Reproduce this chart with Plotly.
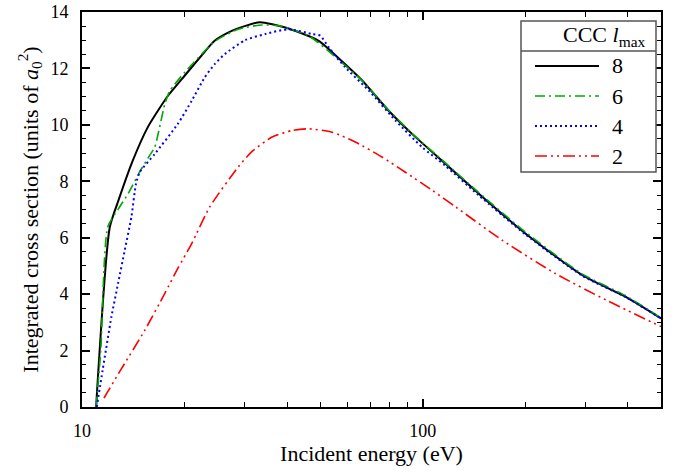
import plotly.graph_objects as go

# ---- data ----
e8 = [11.0, 12.06, 12.8, 14.1, 15.6, 16.7, 17.9, 20.0, 22.4, 24.5, 27.5, 30.0, 33.3, 39.5,
      49.5, 57.7, 66.4, 79.4, 93.0, 116.5, 146, 200, 294, 393, 500]
s8 = [0.0, 6.36, 7.33, 8.74, 9.92, 10.5, 11.04, 11.74, 12.45, 12.98, 13.33, 13.5, 13.64, 13.45,
      12.98, 12.27, 11.57, 10.5, 9.68, 8.62, 7.56, 6.15, 4.67, 3.91, 3.14]

e6 = [11.0, 11.35, 11.9, 12.8, 13.65, 14.76, 15.8, 16.35, 17.5, 18.1, 20.0, 24.0, 25.1, 28.7,
      33.7, 37.8, 46.2, 57.7, 66.4, 79.4, 93.0, 116.5, 146, 200, 294, 393, 500]
s6 = [0.0, 2.0, 6.38, 7.03, 7.56, 8.33, 8.92, 9.21, 10.74, 11.2, 11.86, 12.86, 13.04, 13.39,
      13.54, 13.51, 13.16, 12.22, 11.56, 10.52, 9.7, 8.65, 7.6, 6.2, 4.71, 3.95, 3.16]

e4 = [11.05, 11.5, 12.2, 12.76, 13.35, 13.96, 14.4, 14.77, 16.35, 19.1, 21.0, 22.9, 24.5, 26.25,
      30.1, 34.5, 40.4, 47.3, 50.0, 53.0, 59.2, 69.5, 83.2, 99.5, 116.5, 146, 200, 294, 393, 500]
s4 = [0.0, 1.32, 3.2, 4.38, 5.56, 6.73, 7.91, 8.32, 8.97, 10.03, 10.86, 11.68, 12.15, 12.51,
      13.0, 13.22, 13.39, 13.22, 13.16, 12.74, 12.04, 11.21, 10.15, 9.21, 8.55, 7.5, 6.12, 4.65, 3.9, 3.14]

e2 = [11.6, 12.91, 15.3, 17.5, 19.1, 21.0, 23.7, 28.7, 31.5, 36.0, 41.3, 46.2, 54.2, 63.4,
      75.9, 88.9, 106.6, 124.9, 171, 245, 345, 500]
s2 = [0.32, 1.26, 2.73, 4.03, 4.91, 5.8, 7.09, 8.5, 9.05, 9.56, 9.8, 9.86, 9.74, 9.39,
      8.86, 8.32, 7.68, 7.09, 5.91, 4.73, 3.79, 2.85]

labels = ["8", "6", "4", "2"]
x_major = [10, 100]
x_minor = [20, 30, 40, 50, 60, 70, 80, 90, 200, 300, 400]
y_ticks = [0, 2, 4, 6, 8, 10, 12, 14]

FONT = "Liberation Serif"
styles = [
    dict(color="black", width=2, dash="solid"),
    dict(color="#00a800", width=1.6, dash="10px,4px,2px,4px"),
    dict(color="#0000ff", width=2, dash="2px,3px"),
    dict(color="#ff0000", width=1.6, dash="12px,4px,2px,4px,2px,4px"),
]
series = [(e8, s8), (e6, s6), (e4, s4), (e2, s2)]

fig = go.Figure()
for (ex, sy), lab, st in zip(series, labels, styles):
    fig.add_trace(go.Scatter(x=ex, y=sy, mode="lines", name=lab, showlegend=False,
                             line=dict(st, shape="spline", smoothing=0.6)))

fig.update_layout(
    width=676, height=472,
    margin=dict(l=82, r=15, t=12, b=65),
    plot_bgcolor="white", paper_bgcolor="white",
    font=dict(family=FONT, size=18, color="black"),
    showlegend=False,
    xaxis=dict(
        type="log", range=[1, 2.699], automargin=False,
        tickvals=x_major, ticktext=[str(v) for v in x_major],
        ticks="inside", ticklen=8, tickwidth=1.5, tickcolor="black",
        minor=dict(tickvals=x_minor, ticks="inside", ticklen=5, tickwidth=1.2, tickcolor="black"),
        showline=True, linecolor="black", linewidth=2, mirror="allticks",
        showgrid=False, zeroline=False,
        ticklabelstandoff=6,
        title=dict(text="Incident energy (eV)", standoff=4),
    ),
    yaxis=dict(
        range=[0, 14], automargin=False,
        tickvals=y_ticks,
        ticks="inside", ticklen=8, tickwidth=1.5, tickcolor="black",
        minor=dict(dtick=0.5, ticks="inside", ticklen=4, tickwidth=1.2, tickcolor="black"),
        showline=True, linecolor="black", linewidth=2, mirror="allticks",
        showgrid=False, zeroline=False,
        ticklabelstandoff=8,
        title=dict(text="Integrated cross section (units of <i>a</i><sub>0</sub><sup>2</sup>)",
                   standoff=6),
    ),
)

# ---- hand-drawn legend box (paper coordinates) ----
PL, PW, PB, PH = 82, 579, 407, 395
def px(xp):
    return (xp - PL) / PW
def py(yp):
    return (PB - yp) / PH

fig.add_shape(type="rect", xref="paper", yref="paper",
              x0=px(521), x1=px(656), y0=py(172), y1=py(21),
              line=dict(color="#555555", width=1.5), fillcolor="white", layer="above")
fig.add_shape(type="line", xref="paper", yref="paper",
              x0=px(521), x1=px(656), y0=py(51), y1=py(51),
              line=dict(color="#555555", width=1.5), layer="above")
fig.add_annotation(xref="paper", yref="paper", x=px(647), y=py(36),
                   xanchor="right", yanchor="middle", showarrow=False,
                   text="CCC <i>l</i><sub>max</sub>", font=dict(family=FONT, size=22))
for i, (lab, st) in enumerate(zip(labels, styles)):
    yc = 66 + 30 * i
    fig.add_shape(type="line", xref="paper", yref="paper",
                  x0=px(535), x1=px(599), y0=py(yc), y1=py(yc),
                  line=dict(color=st["color"], width=st["width"], dash=st["dash"]),
                  layer="above")
    fig.add_annotation(xref="paper", yref="paper", x=px(617), y=py(yc),
                       xanchor="center", yanchor="middle", showarrow=False,
                       text=lab, font=dict(family=FONT, size=22))

fig.write_html("out.html")
